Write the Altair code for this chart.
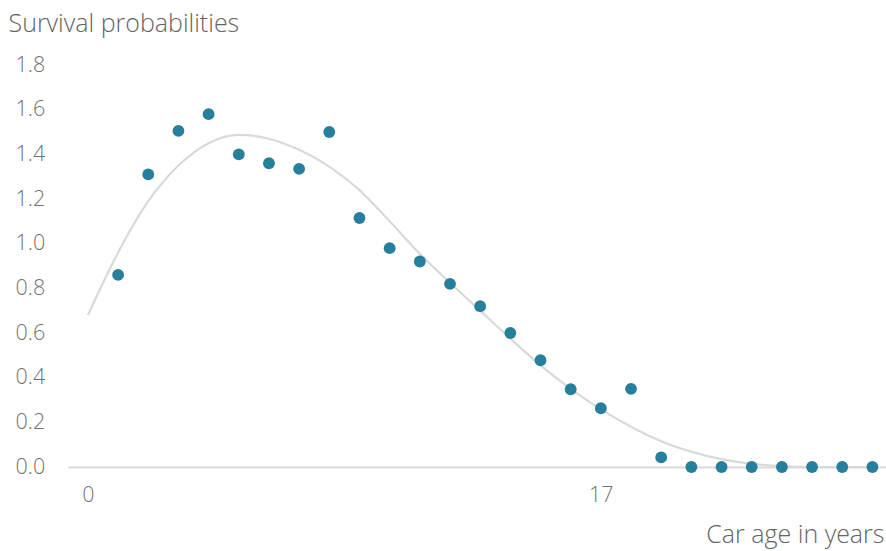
import altair as alt
import pandas as pd

# Observed survival probabilities by car age (years 1-26)
ages = list(range(1, 27))
survival = [0.86, 1.31, 1.505, 1.58, 1.40, 1.36, 1.335, 1.50, 1.115, 0.98,
            0.92, 0.82, 0.72, 0.60, 0.478, 0.348, 0.263, 0.35, 0.043, 0.0,
            0.0, 0.0, 0.0, 0.0, 0.0, 0.0]

# Fitted survival curve sampled at ages 0-26
fit_ages = list(range(0, 27))
fit_values = [0.68, 0.96, 1.19, 1.35, 1.45, 1.487, 1.47, 1.42, 1.345, 1.24,
              1.10, 0.955, 0.825, 0.70, 0.575, 0.455, 0.35, 0.258, 0.18, 0.115,
              0.068, 0.035, 0.014, 0.004, 0.0, 0.0, 0.0]

x_ticks = [0, 17]
y_ticks = [0.0, 0.2, 0.4, 0.6, 0.8, 1.0, 1.2, 1.4, 1.6, 1.8]

points = pd.DataFrame({"age": ages, "p": survival})
fit = pd.DataFrame({"age": fit_ages, "p": fit_values})

FONT = "Open Sans"
TEXT = "#727272"
TITLE = "#646464"
x_scale = alt.Scale(domain=[-0.66, 26.45], nice=False, zero=False)
y_scale = alt.Scale(domain=[0, 1.8], nice=False)

x_axis = alt.Axis(
    values=x_ticks, title="Car age in years", grid=False, ticks=False, tickSize=0,
    domainColor="#d9d9d9", domainWidth=2, labelPadding=17, labelFontSize=21.5,
    labelFontWeight=300, labelColor=TEXT, labelFont=FONT, titleFont=FONT,
    titleFontSize=25, titleFontWeight=300, titleColor=TITLE, titleAlign="right",
    titleAnchor="end", titleX=816, titleY=75, titleBaseline="alphabetic",
)
y_axis = alt.Axis(
    values=y_ticks, format=".1f", title="Survival probabilities", grid=False,
    domain=False, ticks=False, tickSize=0, labelAlign="left", labelPadding=53,
    labelFontSize=21.5, labelFontWeight=300, labelColor=TEXT, labelFont=FONT,
    titleFont=FONT, titleFontSize=25, titleFontWeight=300, titleColor=TITLE,
    titleAngle=0, titleAlign="left", titleX=-60, titleY=-34,
    titleBaseline="alphabetic",
)

curve = alt.Chart(fit).mark_line(
    color="#d9d9d9", strokeWidth=2.2, interpolate="monotone"
).encode(
    x=alt.X("age:Q", scale=x_scale, axis=x_axis),
    y=alt.Y("p:Q", scale=y_scale, axis=y_axis),
)

dots = alt.Chart(points).mark_circle(
    color="#267f9c", opacity=1, size=140
).encode(
    x=alt.X("age:Q", scale=x_scale),
    y=alt.Y("p:Q", scale=y_scale),
)

chart = alt.layer(curve, dots).properties(
    width=818,
    height=402,
    autosize=alt.AutoSizeParams(type="none"),
    padding={"left": 68, "top": 65, "right": 0, "bottom": 84},
).configure(background="white").configure_view(stroke=None, strokeWidth=0)

chart.save("out.html", embed_options={"renderer": "svg", "actions": False})
